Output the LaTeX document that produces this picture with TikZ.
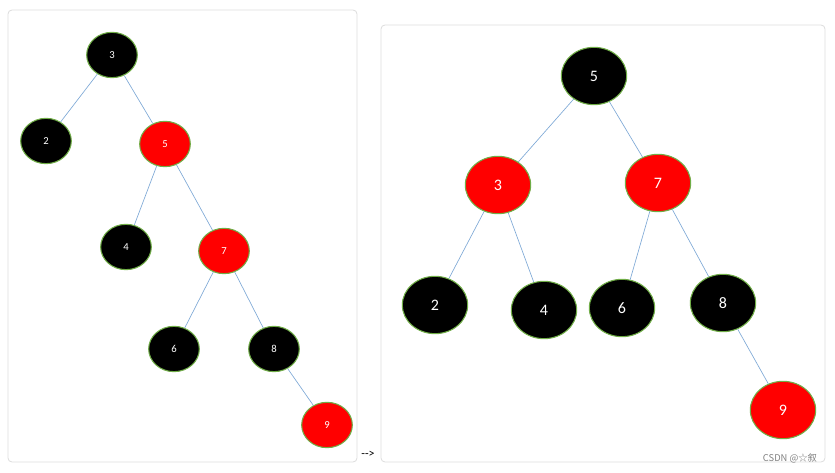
\documentclass[tikz,border=0pt]{standalone}
\usepackage{fontspec}
\setmainfont{Carlito}
\newfontfamily\cjk{Noto Sans CJK SC}
\usetikzlibrary{shapes.geometric}
\definecolor{rim}{HTML}{70AD47}
\definecolor{edgeblue}{HTML}{7FA9D6}
\definecolor{panelline}{HTML}{DCDCDC}
\definecolor{nodered}{HTML}{FF0000}

\begin{document}
\begin{tikzpicture}[
  x=0.75pt,y=-0.75pt,
  panel/.style={draw=panelline,rounded corners=3pt,line width=0.6pt},
  sm/.style={ellipse,draw=rim,line width=0.8pt,text=white,inner sep=0pt,
             minimum width=38pt,minimum height=34pt,font=\footnotesize},
  bg/.style={ellipse,draw=rim,line width=0.8pt,text=white,inner sep=0pt,
             minimum width=49pt,minimum height=43pt,font=\large},
  blk/.style={fill=black},
  rd/.style={fill=nodered},
  ed/.style={draw=edgeblue,line width=0.5pt}
]
\useasboundingbox (0,0) rectangle (835,473);
\draw[panel] (8,10) rectangle (357,462);
\draw[panel] (381,25) rectangle (825,462);

% left tree
\node[sm,blk] (l3) at (112,55)  {3};
\node[sm,blk] (l2) at (46,141)  {2};
\node[sm,rd]  (l5) at (165,144) {5};
\node[sm,blk] (l4) at (126,247) {4};
\node[sm,rd]  (l7) at (224,251) {7};
\node[sm,blk] (l6) at (174,349) {6};
\node[sm,blk] (l8) at (274,349) {8};
\node[sm,rd]  (l9) at (327,425) {9};

\draw[ed] (l3) -- (l2);
\draw[ed] (l3) -- (l5);
\draw[ed] (l5) -- (l4);
\draw[ed] (l5) -- (l7);
\draw[ed] (l7) -- (l6);
\draw[ed] (l7) -- (l8);
\draw[ed] (l8) -- (l9);

% right tree
\node[bg,blk] (r5) at (594,76)  {5};
\node[bg,rd]  (r3) at (498,185) {3};
\node[bg,rd]  (r7) at (658,183) {7};
\node[bg,blk] (r2) at (435,305) {2};
\node[bg,blk] (r4) at (544,310) {4};
\node[bg,blk] (r6) at (622,308) {6};
\node[bg,blk] (r8) at (723,303) {8};
\node[bg,rd]  (r9) at (783,410) {9};

\draw[ed] (r5) -- (r3);
\draw[ed] (r5) -- (r7);
\draw[ed] (r3) -- (r2);
\draw[ed] (r3) -- (r4);
\draw[ed] (r7) -- (r6);
\draw[ed] (r7) -- (r8);
\draw[ed] (r8) -- (r9);

\node[font=\small] (arrowtxt) at (368,454) {-{}->};
\node[font=\scriptsize\cjk,text=gray] (mark) at (790,458) {CSDN @☆叙};
\end{tikzpicture}
\end{document}
